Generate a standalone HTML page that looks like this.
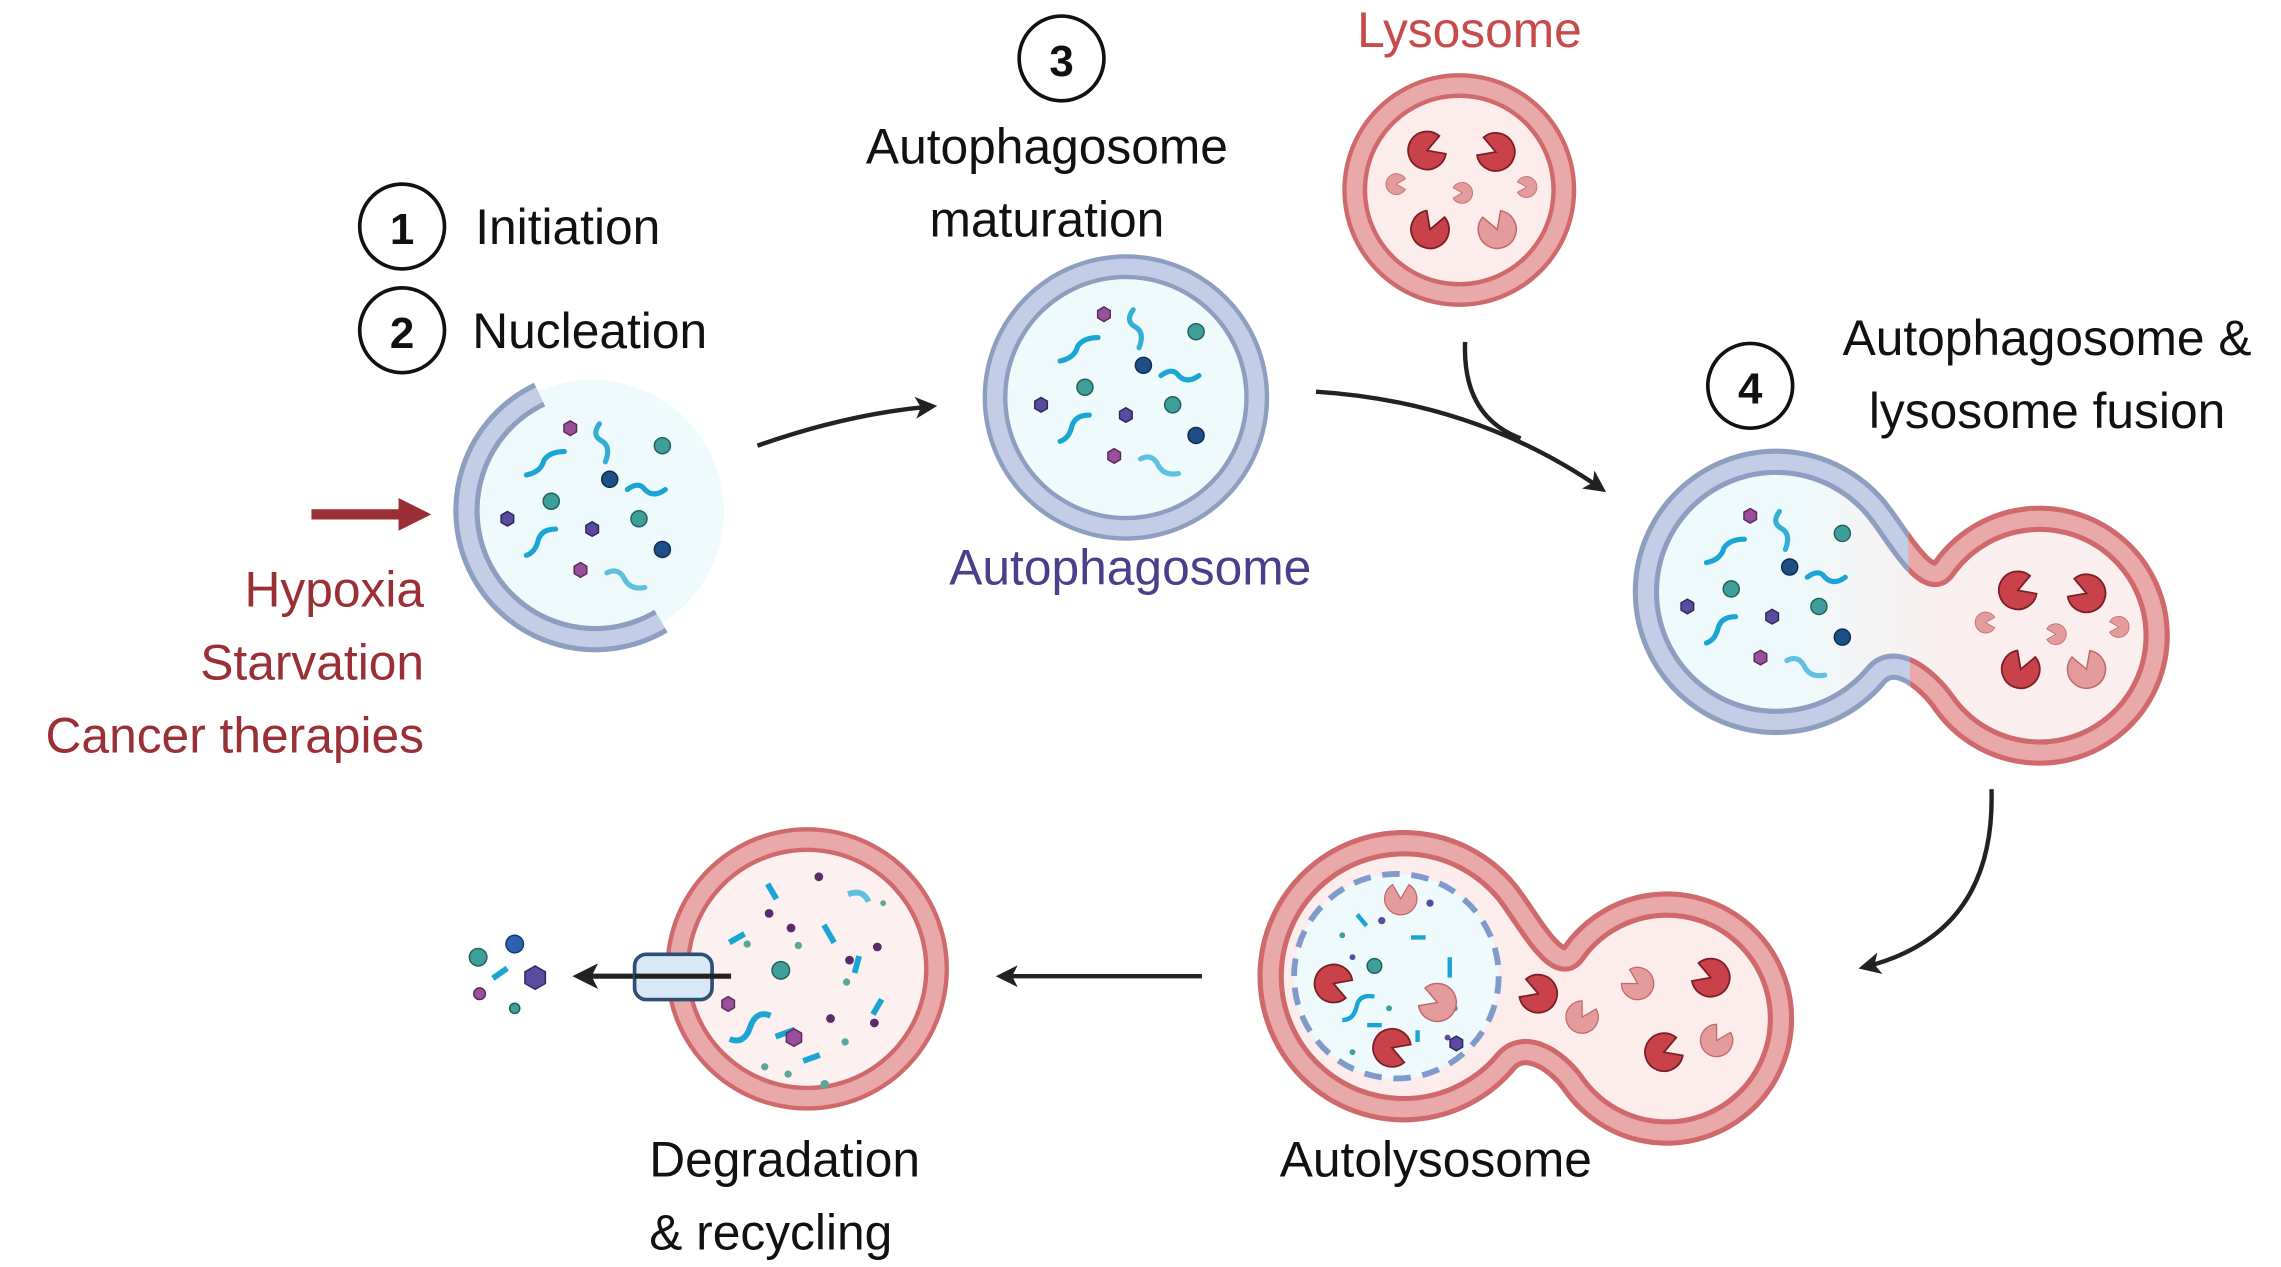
<!DOCTYPE html>
<html><head><meta charset="utf-8"><style>
html,body{margin:0;padding:0;background:#fff}
svg{display:block}
text{font-family:"Liberation Sans",sans-serif}
</style></head><body>
<svg width="2281" height="1267" viewBox="0 0 1560 867" preserveAspectRatio="none" xmlns="http://www.w3.org/2000/svg">
<defs>
<marker id="ah" viewBox="0 0 10 10" refX="8" refY="5" markerWidth="5" markerHeight="5" orient="auto"><path d="M0,0 L10,5 L0,10 L2.5,5 Z" fill="#222"/></marker>
<marker id="ahr" viewBox="0 0 10 10" refX="6" refY="5" markerWidth="3.2" markerHeight="3.2" orient="auto"><path d="M0,0 L10,5 L0,10 Z" fill="#9b2f36"/></marker>
<path id="pd" d="M0,0 L11.3,-6.5 A13,13 0 1 0 11.3,6.5 Z" fill="#c9424a" stroke="#7a1f24" stroke-width="1.2"/>
<path id="pl" d="M0,0 L11.3,-6.5 A13,13 0 1 0 11.3,6.5 Z" fill="#e39b9b" stroke="#c0676b" stroke-width="1"/>
<g id="cargo">
<polygon points="0,-5 4.3,-2.5 4.3,2.5 0,5 -4.3,2.5 -4.3,-2.5" transform="translate(-15,-57)" fill="#9a4f9a" stroke="#5a2a5a"/>
<circle cx="48" cy="-45" r="5.5" fill="#3e9e9a" stroke="#22605e"/>
<path d="M5,-60 q-6,8 2,12 q6,4 2,14" fill="none" stroke="#35aed6" stroke-width="3.5" stroke-linecap="round"/>
<path d="M-45,-25 q10,-2 12,-10 q4,-6 14,-6" fill="none" stroke="#1aa5d4" stroke-width="3.5" stroke-linecap="round"/>
<circle cx="12" cy="-22" r="5.5" fill="#1d4f86" stroke="#0f2c50"/>
<path d="M24,-15 q8,-6 12,0 q6,6 14,0" fill="none" stroke="#1aa5d4" stroke-width="3.5" stroke-linecap="round"/>
<circle cx="-28" cy="-7" r="5.5" fill="#3e9e9a" stroke="#22605e"/>
<polygon points="0,-5 4.3,-2.5 4.3,2.5 0,5 -4.3,2.5 -4.3,-2.5" transform="translate(-58,5)" fill="#5a4b9e" stroke="#302560"/>
<polygon points="0,-5 4.3,-2.5 4.3,2.5 0,5 -4.3,2.5 -4.3,-2.5" transform="translate(0,12)" fill="#5a4b9e" stroke="#302560"/>
<circle cx="32" cy="5" r="5.5" fill="#3e9e9a" stroke="#22605e"/>
<path d="M-45,30 q6,-2 8,-10 q2,-8 12,-8" fill="none" stroke="#1aa5d4" stroke-width="3.5" stroke-linecap="round"/>
<circle cx="48" cy="26" r="5.5" fill="#1d4f86" stroke="#0f2c50"/>
<polygon points="0,-5 4.3,-2.5 4.3,2.5 0,5 -4.3,2.5 -4.3,-2.5" transform="translate(-8,40)" fill="#9a4f9a" stroke="#5a2a5a"/>
<path d="M10,42 q8,-4 12,4 q4,8 14,6" fill="none" stroke="#5fc0e0" stroke-width="3.5" stroke-linecap="round"/>
</g>
<linearGradient id="fg" x1="1117" x2="1483" y1="0" y2="0" gradientUnits="userSpaceOnUse"><stop offset="0.3" stop-color="#eefafc"/><stop offset="0.6" stop-color="#fbeeee"/></linearGradient>
<clipPath id="cl"><polygon points="0,0 1300,0 1312,867 0,867"/></clipPath>
<clipPath id="cr"><polygon points="1300,0 1560,0 1560,867 1312,867"/></clipPath>
<path id="fus" d="M1283,348 A89,89 0 1 0 1283,462 C1295.9,446.7 1318,464.6 1329.5,481 A80,80 0 1 0 1329.5,389 C1318,405.4 1295.9,363.3 1283,348 Z"/>
<path id="aut" d="M1029.7,609.5 A91,91 0 1 0 1029.7,726.5 C1042.6,711.2 1064.6,725.3 1076.1,741.7 A78,78 0 1 0 1076.1,652.3 C1064.6,668.7 1042.6,624.8 1029.7,609.5 Z"/>
</defs>

<!-- labels -->
<g font-size="34" fill="#111">
<circle cx="275" cy="155" r="29" fill="none" stroke="#111" stroke-width="2.5"/>
<text x="275" y="167" font-size="30" font-weight="bold" text-anchor="middle">1</text>
<text x="325" y="167">Initiation</text>
<circle cx="275" cy="226" r="29" fill="none" stroke="#111" stroke-width="2.5"/>
<text x="275" y="238" font-size="30" font-weight="bold" text-anchor="middle">2</text>
<text x="323" y="238">Nucleation</text>
<circle cx="726" cy="40" r="29" fill="none" stroke="#111" stroke-width="2.5"/>
<text x="726" y="52" font-size="30" font-weight="bold" text-anchor="middle">3</text>
<text x="716" y="112" text-anchor="middle">Autophagosome</text>
<text x="716" y="162" text-anchor="middle">maturation</text>
<circle cx="1197" cy="264" r="29" fill="none" stroke="#111" stroke-width="2.5"/>
<text x="1197" y="276" font-size="30" font-weight="bold" text-anchor="middle">4</text>
<text x="1400" y="243" text-anchor="middle">Autophagosome &amp;</text>
<text x="1400" y="293" text-anchor="middle">lysosome fusion</text>
<text x="982" y="805" text-anchor="middle">Autolysosome</text>
<text x="444" y="805">Degradation</text>
<text x="444" y="855">&amp; recycling</text>
</g>
<text x="773" y="400" font-size="34" fill="#4a3f8a" text-anchor="middle">Autophagosome</text>
<text x="1005" y="32" font-size="34" fill="#c94a4a" text-anchor="middle">Lysosome</text>
<g font-size="34" fill="#9b2f36" text-anchor="end">
<text x="290" y="415">Hypoxia</text>
<text x="290" y="465">Starvation</text>
<text x="290" y="515">Cancer therapies</text>
</g>

<!-- red arrow -->
<line x1="213" y1="352" x2="286" y2="352" stroke="#9b2f36" stroke-width="7" marker-end="url(#ahr)"/>

<!-- phagophore -->
<circle cx="405" cy="350" r="90" fill="#eefafc"/>
<path d="M369,270 A88,88 0 1 0 452,425" fill="none" stroke="#8e9ec0" stroke-width="18"/>
<path d="M369,270 A88,88 0 1 0 452,425" fill="none" stroke="#c3cde6" stroke-width="11"/>
<use href="#cargo" transform="translate(405,350)"/>

<!-- arrows -->
<path d="M518,305 Q580,283 638,278" fill="none" stroke="#222" stroke-width="3" marker-end="url(#ah)"/>
<path d="M900,268 Q1010,275 1096,335" fill="none" stroke="#222" stroke-width="3" marker-end="url(#ah)"/>
<path d="M1002,234 Q1000,285 1040,300" fill="none" stroke="#222" stroke-width="3"/>
<path d="M1362,540 Q1365,640 1274,662" fill="none" stroke="#222" stroke-width="3" marker-end="url(#ah)"/>
<path d="M822,668 L684,668" fill="none" stroke="#222" stroke-width="3" marker-end="url(#ah)"/>
<path d="M505,668 L395,668" fill="none" stroke="#222" stroke-width="3.5" marker-end="url(#ah)"/>

<!-- autophagosome -->
<circle cx="770" cy="272" r="98" fill="#8e9ec0"/>
<circle cx="770" cy="272" r="95" fill="#c3cde6"/>
<circle cx="770" cy="272" r="84" fill="#8e9ec0"/>
<circle cx="770" cy="272" r="81" fill="#eefafc"/>
<use href="#cargo" transform="translate(770,272)"/>

<!-- lysosome -->
<circle cx="998" cy="130" r="80" fill="#d0696c"/>
<circle cx="998" cy="130" r="77" fill="#eaa9a9"/>
<circle cx="998" cy="130" r="66" fill="#d0696c"/>
<circle cx="998" cy="130" r="63" fill="#fcecec"/>
<use href="#pd" transform="translate(976,103) rotate(-20)"/>
<use href="#pd" transform="translate(1023,104) rotate(200)"/>
<use href="#pd" transform="translate(978,157) rotate(-70)"/>
<use href="#pl" transform="translate(1024,157) rotate(-110)"/>
<use href="#pl" transform="translate(955,126) scale(0.55)"/>
<use href="#pl" transform="translate(1000,132) rotate(180) scale(0.55)"/>
<use href="#pl" transform="translate(1044,128) rotate(180) scale(0.55)"/>

<!-- fusion -->
<use href="#fus" fill="url(#fg)"/>
<g clip-path="url(#cl)"><use href="#fus" fill="none" stroke="#8e9ec0" stroke-width="18"/><use href="#fus" fill="none" stroke="#c3cde6" stroke-width="11"/></g>
<g clip-path="url(#cr)"><use href="#fus" fill="none" stroke="#d0696c" stroke-width="18"/><use href="#fus" fill="none" stroke="#eaa9a9" stroke-width="11"/></g>
<use href="#cargo" transform="translate(1212,410)"/>
<use href="#pd" transform="translate(1380,404) rotate(-20)"/>
<use href="#pd" transform="translate(1427,406) rotate(200)"/>
<use href="#pd" transform="translate(1382,458) rotate(-70)"/>
<use href="#pl" transform="translate(1427,458) rotate(-110)"/>
<use href="#pl" transform="translate(1358,426) scale(0.55)"/>
<use href="#pl" transform="translate(1406,434) rotate(180) scale(0.55)"/>
<use href="#pl" transform="translate(1449,429) rotate(180) scale(0.55)"/>

<!-- autolysosome -->
<use href="#aut" fill="#fcecec" stroke="#d0696c" stroke-width="18"/>
<use href="#aut" fill="none" stroke="#eaa9a9" stroke-width="11"/>
<circle cx="955" cy="668" r="70" fill="#eefafc" stroke="#7f9acb" stroke-width="4" stroke-dasharray="12 8"/>
<g fill="#1aa5d4">
<rect x="930" y="625" width="3" height="10" transform="rotate(-40 931 630)"/>
<rect x="990" y="655" width="3" height="14"/>
<rect x="965" y="640" width="10" height="3"/>
<rect x="935" y="700" width="10" height="3"/>
<rect x="968" y="705" width="3" height="8"/>
</g>
<path d="M918,698 q8,0 10,-10 q2,-8 12,-6" fill="none" stroke="#1aa5d4" stroke-width="3"/>
<circle cx="940" cy="661" r="5" fill="#3e9e9a" stroke="#22605e"/>
<g fill="#5a4b9e"><circle cx="945" cy="630" r="2.5"/><circle cx="978" cy="618" r="2.5"/><circle cx="975" cy="690" r="2.5"/><circle cx="925" cy="655" r="2"/><circle cx="990" cy="710" r="2"/></g>
<g fill="#3e9e9a"><circle cx="918" cy="640" r="2"/><circle cx="995" cy="690" r="2"/><circle cx="950" cy="690" r="2"/><circle cx="925" cy="720" r="2"/></g>
<polygon points="0,-5 4.3,-2.5 4.3,2.5 0,5 -4.3,2.5 -4.3,-2.5" transform="translate(996,714)" fill="#5a4b9e" stroke="#302560"/>
<use href="#pd" transform="translate(912,673) rotate(20)"/>
<use href="#pd" transform="translate(952,717) rotate(20)"/>
<use href="#pl" transform="translate(983,686) rotate(200)"/>
<use href="#pl" transform="translate(958,615) rotate(-90) scale(0.85)"/>
<use href="#pd" transform="translate(1052,680) rotate(200)"/>
<use href="#pl" transform="translate(1082,696) rotate(-60) scale(0.85)"/>
<use href="#pl" transform="translate(1120,673) rotate(-150) scale(0.85)"/>
<use href="#pd" transform="translate(1170,669) rotate(200)"/>
<use href="#pd" transform="translate(1138,720) rotate(-20)"/>
<use href="#pl" transform="translate(1174,712) rotate(-60) scale(0.85)"/>

<!-- degradation -->
<circle cx="552" cy="663" r="97" fill="#d0696c"/>
<circle cx="552" cy="663" r="94" fill="#eaa9a9"/>
<circle cx="552" cy="663" r="83" fill="#d0696c"/>
<circle cx="552" cy="663" r="80" fill="#fcf0f0"/>
<g fill="#1aa5d4">
<rect x="526" y="604" width="4" height="12" transform="rotate(-30 528 610)"/>
<rect x="498" y="640" width="12" height="4" transform="rotate(-30 504 642)"/>
<rect x="565" y="632" width="4" height="14" transform="rotate(-30 567 639)"/>
<rect x="584" y="654" width="4" height="12" transform="rotate(15 586 660)"/>
<rect x="598" y="683" width="4" height="12" transform="rotate(30 600 689)"/>
<rect x="549" y="722" width="12" height="4" transform="rotate(-20 555 724)"/>
<rect x="530" y="705" width="14" height="4" transform="rotate(-20 537 707)"/>
</g>
<path d="M580,612 q10,-4 14,5" fill="none" stroke="#5fc0e0" stroke-width="4"/>
<path d="M499,711 q10,4 14,-8 q4,-12 14,-8" fill="none" stroke="#1aa5d4" stroke-width="4"/>
<circle cx="534" cy="664" r="6" fill="#3e9e9a" stroke="#22605e"/>
<g fill="#5a2a6a"><circle cx="560" cy="600" r="3"/><circle cx="526" cy="625" r="3"/><circle cx="541" cy="635" r="3"/><circle cx="581" cy="657" r="3"/><circle cx="600" cy="648" r="3"/><circle cx="568" cy="697" r="3"/><circle cx="598" cy="700" r="3"/></g>
<g fill="#5aa89a"><circle cx="546" cy="647" r="2.5"/><circle cx="511" cy="646" r="2.5"/><circle cx="579" cy="672" r="2.5"/><circle cx="523" cy="730" r="2.5"/><circle cx="539" cy="735" r="2.5"/><circle cx="578" cy="713" r="2.5"/><circle cx="564" cy="742" r="3"/><circle cx="604" cy="618" r="2"/></g>
<polygon points="0,-6 5.2,-3 5.2,3 0,6 -5.2,3 -5.2,-3" transform="translate(543,710)" fill="#9a4f9a" stroke="#5a2a5a"/>
<polygon points="0,-5 4.3,-2.5 4.3,2.5 0,5 -4.3,2.5 -4.3,-2.5" transform="translate(498,687)" fill="#9a4f9a" stroke="#5a2a5a"/>
<rect x="434" y="653" width="53" height="31" rx="8" fill="#d8e8f6" stroke="#2f4f75" stroke-width="2.5"/>
<line x1="434" y1="668" x2="500" y2="668" stroke="#222" stroke-width="3.5"/>
<!-- released particles -->
<circle cx="327" cy="655" r="6" fill="#3e9e9a" stroke="#22605e"/>
<circle cx="352" cy="646" r="6" fill="#2d62b0" stroke="#17386e"/>
<rect x="336" y="664" width="12" height="4" transform="rotate(-35 342 666)" fill="#1aa5d4"/>
<polygon points="0,-8 7,-4 7,4 0,8 -7,4 -7,-4" transform="translate(366,669)" fill="#5a4b9e" stroke="#302560"/>
<circle cx="328" cy="680" r="4" fill="#9a4f9a" stroke="#5a2a5a"/>
<circle cx="352" cy="690" r="3.5" fill="#3e9e9a" stroke="#22605e"/>
</svg>
</body></html>
